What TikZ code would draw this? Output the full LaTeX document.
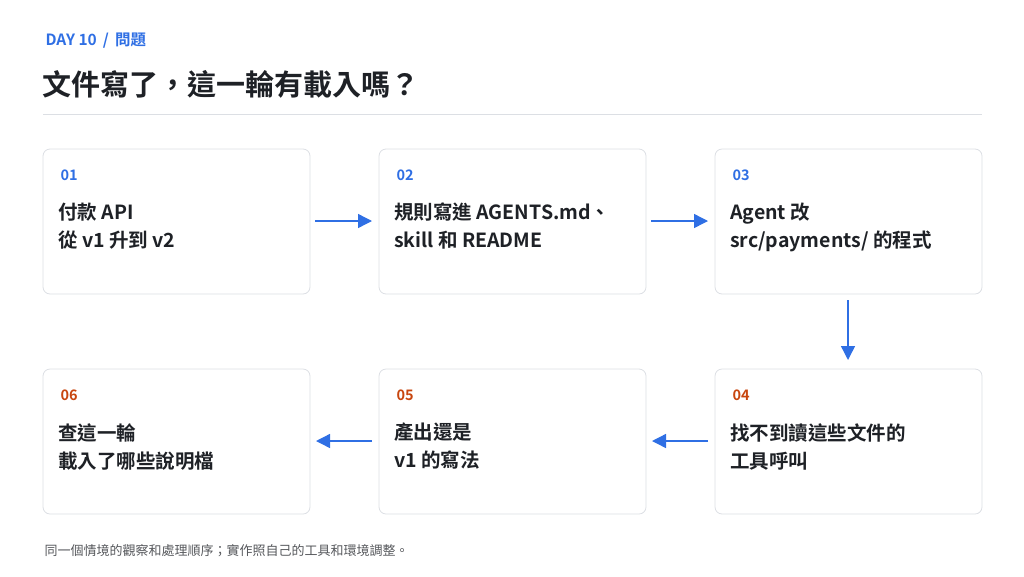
\documentclass[tikz,border=0pt]{standalone}
\usepackage{fontspec}
\setmainfont{Noto Sans CJK TC}[BoldFont={Noto Sans CJK TC Bold}]
\usetikzlibrary{arrows.meta}
\definecolor{blu}{HTML}{2F6FE4}
\definecolor{org}{HTML}{C8460F}
\definecolor{ink}{HTML}{1E2126}
\definecolor{bord}{HTML}{DCDFE4}
\begin{document}
\begin{tikzpicture}[x=1pt,y=-1pt,
  box/.style={draw=bord,line width=0.8pt,rounded corners=7pt,fill=white},
  num/.style={anchor=west,font=\bfseries\fontsize{14.5}{14.5}\selectfont},
  txt/.style={anchor=north west,align=left,text=ink,font=\bfseries\fontsize{19.5}{28}\selectfont,inner sep=0pt},
  arr/.style={draw=blu,line width=1.4pt,-{Triangle[length=14pt,width=14pt]}}]
\useasboundingbox (0,0) rectangle (1024,576);
\node[anchor=west,text=blu,font=\bfseries\fontsize{15.5}{15.5}\selectfont] (hd) at (42,41) {DAY 10\, / \,問題};
\node[anchor=west,text=ink,font=\bfseries\fontsize{29}{29}\selectfont] (ti) at (39,84) {文件寫了，這一輪有載入嗎？};
\draw[bord,line width=1pt] (43,114) -- (982,114);
\foreach \n/\x/\y in {b1/43/149,b2/379/149,b3/715/149,b6/43/369,b5/379/369,b4/715/369}
  \draw[box] (\x,\y) rectangle ++(267,145) coordinate (\n);
\node[num,text=blu] (n1) at (57,175) {01};
\node[num,text=blu] (n2) at (393,175) {02};
\node[num,text=blu] (n3) at (729,175) {03};
\node[num,text=org] (n4) at (729,395) {04};
\node[num,text=org] (n5) at (393,395) {05};
\node[num,text=org] (n6) at (57,395) {06};
\node[txt] (t1) at (58,203) {付款 API\\從 v1 升到 v2};
\node[txt] (t2) at (394,203) {規則寫進 AGENTS.md、\\skill 和 README};
\node[txt] (t3) at (730,203) {Agent 改\\src/payments/ 的程式};
\node[txt] (t4) at (730,423) {找不到讀這些文件的\\工具呼叫};
\node[txt] (t5) at (394,423) {產出還是\\v1 的寫法};
\node[txt] (t6) at (58,423) {查這一輪\\載入了哪些說明檔};
\coordinate (a1) at (315,221); \coordinate (a2) at (372,221);
\coordinate (a3) at (651,221); \coordinate (a4) at (708,221);
\coordinate (a5) at (848,300); \coordinate (a6) at (848,360);
\coordinate (a7) at (708,441); \coordinate (a8) at (652,441);
\coordinate (a9) at (372,441); \coordinate (a10) at (316,441);
\draw[arr] (a1) -- (a2);
\draw[arr] (a3) -- (a4);
\draw[arr] (a5) -- (a6);
\draw[arr] (a7) -- (a8);
\draw[arr] (a9) -- (a10);
\node[anchor=west,text=ink!75,font=\fontsize{13}{13}\selectfont] (ft) at (41,551) {同一個情境的觀察和處理順序；實作照自己的工具和環境調整。};
\end{tikzpicture}
\end{document}
